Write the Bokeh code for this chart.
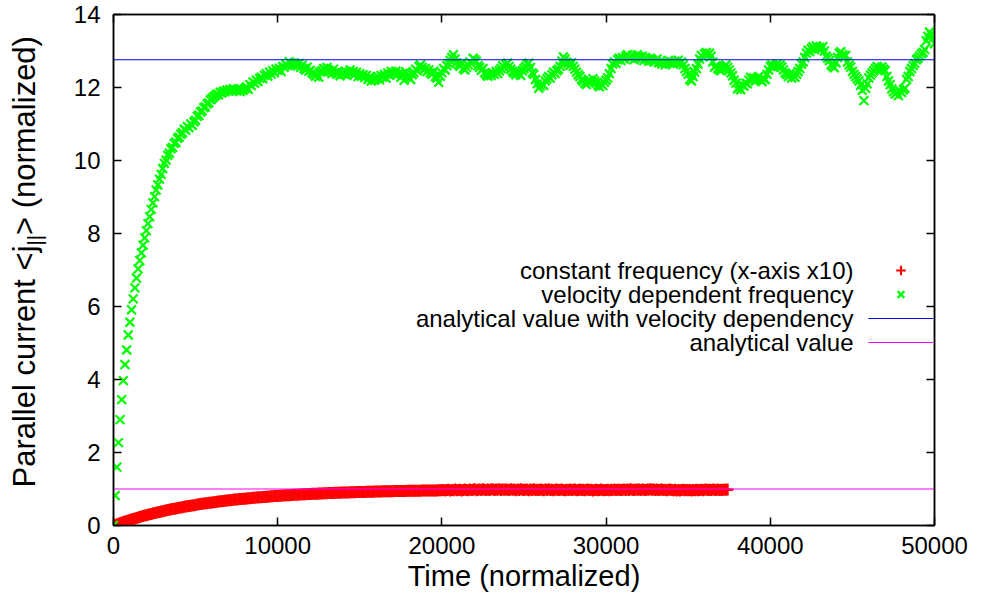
from bokeh.core.properties import value
from bokeh.embed import file_html
from bokeh.layouts import row
from bokeh.models import FixedTicker, Label, Legend, LegendItem, LinearAxis, Range1d
from bokeh.plotting import figure
from bokeh.resources import INLINE
import math

# ---------------------------------------------------------------------------
# Data
# ---------------------------------------------------------------------------
TIME_STEP = 100  # sampling interval of both simulations (normalized time)

# velocity dependent collision frequency, one sample every TIME_STEP
velocity_dependent = [
    0.00, 0.82, 1.60, 2.27, 2.90, 3.45, 3.97, 4.41, 4.81, 5.22,
    5.57, 5.91, 6.21, 6.51, 6.78, 7.03, 7.26, 7.47, 7.68, 7.88,
    8.08, 8.27, 8.46, 8.66, 8.84, 9.01, 9.19, 9.33, 9.49, 9.62,
    9.78, 9.92, 10.01, 10.14, 10.20, 10.32, 10.36, 10.47, 10.50, 10.61,
    10.64, 10.72, 10.76, 10.86, 10.83, 10.93, 10.90, 11.00, 10.96, 11.06,
    11.10, 11.21, 11.24, 11.33, 11.36, 11.45, 11.47, 11.55, 11.58, 11.66,
    11.70, 11.74, 11.78, 11.82, 11.80, 11.87, 11.85, 11.90, 11.88, 11.93,
    11.90, 11.95, 11.92, 11.97, 11.93, 11.91, 11.96, 11.89, 11.94, 11.92,
    11.97, 12.02, 11.95, 12.08, 12.05, 12.15, 12.12, 12.20, 12.16, 12.25,
    12.28, 12.24, 12.33, 12.38, 12.31, 12.42, 12.37, 12.46, 12.40, 12.50,
    12.47, 12.53, 12.44, 12.58, 12.55, 12.63, 12.60, 12.71, 12.66, 12.62,
    12.68, 12.64, 12.59, 12.66, 12.55, 12.61, 12.52, 12.48, 12.56, 12.45,
    12.47, 12.40, 12.36, 12.31, 12.35, 12.28, 12.42, 12.46, 12.52, 12.49,
    12.55, 12.48, 12.44, 12.38, 12.50, 12.41, 12.36, 12.43, 12.32, 12.39,
    12.37, 12.45, 12.33, 12.41, 12.48, 12.40, 12.44, 12.36, 12.42, 12.30,
    12.38, 12.31, 12.35, 12.27, 12.33, 12.22, 12.29, 12.18, 12.25, 12.20,
    12.24, 12.30, 12.21, 12.33, 12.28, 12.36, 12.26, 12.40, 12.34, 12.44,
    12.42, 12.37, 12.45, 12.35, 12.40, 12.28, 12.38, 12.20, 12.43, 12.33,
    12.26, 12.22, 12.35, 12.41, 12.50, 12.46, 12.58, 12.62, 12.55, 12.49,
    12.52, 12.44, 12.48, 12.40, 12.36, 12.45, 12.30, 12.26, 12.14, 12.31,
    12.40, 12.52, 12.48, 12.60, 12.66, 12.74, 12.82, 12.90, 12.78, 12.68,
    12.62, 12.58, 12.66, 12.52, 12.48, 12.55, 12.62, 12.70, 12.66, 12.80,
    12.76, 12.72, 12.60, 12.55, 12.47, 12.52, 12.40, 12.35, 12.31, 12.38,
    12.33, 12.40, 12.36, 12.44, 12.38, 12.46, 12.52, 12.60, 12.55, 12.63,
    12.67, 12.58, 12.50, 12.44, 12.40, 12.35, 12.42, 12.38, 12.33, 12.46,
    12.52, 12.58, 12.64, 12.67, 12.55, 12.40, 12.36, 12.22, 12.10, 11.98,
    12.04, 12.10, 12.06, 12.18, 12.24, 12.30, 12.26, 12.35, 12.42, 12.38,
    12.46, 12.50, 12.58, 12.72, 12.84, 12.78, 12.70, 12.66, 12.60, 12.68,
    12.58, 12.50, 12.42, 12.35, 12.30, 12.22, 12.18, 12.12, 12.08, 12.15,
    12.20, 12.16, 12.24, 12.18, 12.12, 12.06, 12.02, 12.10, 12.05, 12.14,
    12.20, 12.26, 12.38, 12.52, 12.64, 12.70, 12.66, 12.76, 12.80, 12.74,
    12.82, 12.78, 12.86, 12.90, 12.84, 12.80, 12.88, 12.76, 12.82, 12.90,
    12.85, 12.79, 12.86, 12.74, 12.82, 12.78, 12.72, 12.80, 12.76, 12.70,
    12.74, 12.78, 12.68, 12.72, 12.64, 12.70, 12.62, 12.67, 12.74, 12.66,
    12.70, 12.64, 12.72, 12.68, 12.75, 12.66, 12.70, 12.62, 12.52, 12.44,
    12.36, 12.22, 12.18, 12.30, 12.42, 12.52, 12.64, 12.78, 12.88, 12.84,
    12.92, 12.96, 12.90, 12.94, 12.86, 12.70, 12.56, 12.60, 12.52, 12.48,
    12.46, 12.52, 12.58, 12.62, 12.55, 12.48, 12.40, 12.32, 12.20, 12.12,
    11.96, 12.02, 11.94, 12.06, 12.04, 12.12, 12.10, 12.20, 12.28, 12.22,
    12.26, 12.18, 12.24, 12.30, 12.20, 12.16, 12.24, 12.22, 12.36, 12.48,
    12.58, 12.62, 12.55, 12.60, 12.64, 12.58, 12.62, 12.56, 12.48, 12.40,
    12.36, 12.30, 12.38, 12.26, 12.34, 12.28, 12.36, 12.44, 12.52, 12.64,
    12.70, 12.82, 12.94, 13.02, 12.98, 13.06, 13.12, 13.04, 13.14, 13.08,
    13.10, 13.06, 13.12, 13.00, 12.86, 12.80, 12.74, 12.62, 12.58, 12.54,
    12.68, 12.82, 12.94, 12.98, 12.90, 12.86, 12.88, 12.70, 12.62, 12.56,
    12.44, 12.36, 12.30, 12.24, 12.18, 12.06, 11.92, 11.64, 11.98, 12.10,
    12.26, 12.34, 12.40, 12.46, 12.52, 12.58, 12.54, 12.48, 12.56, 12.50,
    12.46, 12.30, 12.18, 12.08, 11.96, 11.88, 11.82, 11.86, 11.78, 11.90,
    11.86, 11.94, 11.98, 12.22, 12.30, 12.44, 12.52, 12.60, 12.66, 12.76,
    12.80, 12.86, 12.92, 12.96, 13.04, 13.28, 13.40, 13.52, 13.46, 13.34,
    13.20,
]

# constant collision frequency (time axis already multiplied by 10)
constant_frequency = [
    0.000, 0.017, 0.033, 0.049, 0.064, 0.080, 0.095, 0.110, 0.125, 0.139,
    0.154, 0.168, 0.181, 0.195, 0.208, 0.221, 0.234, 0.247, 0.259, 0.271,
    0.283, 0.295, 0.307, 0.318, 0.330, 0.341, 0.352, 0.362, 0.373, 0.383,
    0.393, 0.403, 0.413, 0.423, 0.433, 0.442, 0.451, 0.460, 0.469, 0.478,
    0.487, 0.495, 0.503, 0.512, 0.520, 0.528, 0.535, 0.543, 0.551, 0.558,
    0.565, 0.573, 0.580, 0.587, 0.593, 0.600, 0.607, 0.613, 0.620, 0.626,
    0.632, 0.638, 0.644, 0.650, 0.656, 0.662, 0.667, 0.673, 0.678, 0.683,
    0.689, 0.694, 0.699, 0.704, 0.709, 0.713, 0.718, 0.723, 0.727, 0.732,
    0.736, 0.741, 0.745, 0.749, 0.753, 0.758, 0.762, 0.765, 0.769, 0.773,
    0.777, 0.781, 0.784, 0.788, 0.791, 0.795, 0.798, 0.801, 0.805, 0.808,
    0.811, 0.814, 0.817, 0.820, 0.823, 0.826, 0.829, 0.832, 0.835, 0.837,
    0.840, 0.843, 0.845, 0.848, 0.850, 0.853, 0.855, 0.857, 0.860, 0.862,
    0.865, 0.867, 0.869, 0.871, 0.873, 0.875, 0.878, 0.880, 0.881, 0.883,
    0.885, 0.887, 0.889, 0.891, 0.893, 0.894, 0.896, 0.898, 0.900, 0.901,
    0.903, 0.904, 0.906, 0.907, 0.909, 0.910, 0.912, 0.913, 0.915, 0.916,
    0.918, 0.919, 0.920, 0.921, 0.923, 0.924, 0.926, 0.927, 0.928, 0.929,
    0.930, 0.932, 0.933, 0.934, 0.935, 0.936, 0.937, 0.938, 0.939, 0.940,
    0.941, 0.942, 0.943, 0.944, 0.945, 0.946, 0.947, 0.947, 0.948, 0.949,
    0.950, 0.951, 0.952, 0.952, 0.953, 0.954, 0.955, 0.955, 0.956, 0.957,
    0.958, 0.958, 0.959, 0.960, 0.960, 0.961, 0.962, 0.962, 0.963, 0.964,
    0.966, 0.972, 0.958, 0.970, 0.981, 0.962, 0.975, 0.968, 0.984, 0.965,
    0.972, 0.980, 0.961, 0.976, 0.988, 0.970, 0.966, 0.983, 0.974, 0.979,
    0.990, 0.968, 0.977, 0.985, 0.972, 0.994, 0.980, 0.971, 0.987, 0.976,
    0.983, 0.995, 0.974, 0.986, 0.979, 0.991, 0.970, 0.984, 0.977, 0.989,
    0.981, 0.973, 0.992, 0.978, 0.986, 0.969, 0.983, 0.975, 0.990, 0.980,
    0.972, 0.986, 0.979, 0.968, 0.984, 0.976, 0.991, 0.971, 0.982, 0.974,
    0.987, 0.977, 0.969, 0.983, 0.975, 0.990, 0.972, 0.981, 0.966, 0.978,
    0.984, 0.970, 0.979, 0.988, 0.973, 0.967, 0.982, 0.976, 0.985, 0.971,
    0.978, 0.986, 0.969, 0.975, 0.983, 0.972, 0.980, 0.965, 0.977, 0.984,
    0.970, 0.979, 0.962, 0.974, 0.981, 0.968, 0.976, 0.983, 0.971, 0.966,
    0.975, 0.982, 0.969, 0.978, 0.973, 0.985, 0.970, 0.977, 0.981, 0.972,
    0.979, 0.986, 0.974, 0.983, 0.976, 0.990, 0.980, 0.973, 0.987, 0.978,
    0.984, 0.975, 0.989, 0.981, 0.973, 0.986, 0.979, 0.991, 0.977, 0.983,
    0.976, 0.988, 0.972, 0.980, 0.985, 0.974, 0.982, 0.969, 0.978, 0.986,
    0.973, 0.966, 0.979, 0.962, 0.975, 0.958, 0.970, 0.981, 0.967, 0.976,
    0.964, 0.972, 0.960, 0.974, 0.968, 0.978, 0.965, 0.973, 0.980, 0.969,
    0.977, 0.984, 0.971, 0.982, 0.975, 0.987, 0.979, 0.973, 0.985, 0.976,
    0.982, 0.974, 0.987, 0.978, 0.983,
]

analytical_velocity = 12.76   # analytical value with velocity dependency
analytical_constant = 1.0     # analytical value

t_min, t_max = 0, 50000
y_min, y_max = 0, 14
x_ticks = [0, 10000, 20000, 30000, 40000, 50000]
y_ticks = [0, 2, 4, 6, 8, 10, 12, 14]

legend_labels = [
    "constant frequency (x-axis x10)",
    "velocity dependent frequency",
    "analytical value with velocity dependency",
    "analytical value",
]

t_velocity = [i * TIME_STEP for i in range(len(velocity_dependent))]
t_constant = [i * TIME_STEP for i in range(len(constant_frequency))]

# ---------------------------------------------------------------------------
# Layout constants (pixels)
# ---------------------------------------------------------------------------
FONT = "Liberation Sans"
PAGE_H = 604
TITLE_W = 60          # strip that carries the rotated y title
LEFT_PANEL = 53       # room for the y tick labels
FRAME_W, FRAME_H = 821, 511
BORDER_R, BORDER_T, BORDER_B = 47, 14, 79

# ---------------------------------------------------------------------------
# Main plot
# ---------------------------------------------------------------------------
p = figure(
    frame_width=FRAME_W, frame_height=FRAME_H,
    min_border_left=LEFT_PANEL, min_border_right=BORDER_R,
    min_border_top=BORDER_T, min_border_bottom=BORDER_B,
    x_range=Range1d(t_min, t_max), y_range=Range1d(y_min, y_max),
    output_backend="svg", toolbar_location=None,
    background_fill_color="white", border_fill_color="white",
)
p.grid.visible = False
p.outline_line_color = "black"
p.outline_line_width = 1.5

p.add_layout(LinearAxis(), "above")
p.add_layout(LinearAxis(), "right")


def style_axis(ax, ticks, show_labels):
    ax.ticker = FixedTicker(ticks=ticks)
    ax.major_tick_in = 8
    ax.major_tick_out = 0
    ax.minor_tick_line_color = None
    ax.axis_line_color = "black"
    ax.axis_line_width = 1.5
    ax.major_tick_line_color = "black"
    ax.major_tick_line_width = 1.5
    ax.major_label_text_font = FONT
    if show_labels:
        ax.major_label_text_font_size = "24px"
        ax.major_label_text_color = "black"
    else:
        # mirrored ticks only
        ax.major_label_text_font_size = "1px"
        ax.major_label_text_color = None
        ax.major_label_text_alpha = 0
        ax.major_label_standoff = 0


style_axis(p.below[0], x_ticks, True)
style_axis(p.left[0], y_ticks, True)
style_axis(p.above[0], x_ticks, False)
style_axis(p.right[0], y_ticks, False)

p.below[0].major_label_standoff = 11
p.left[0].major_label_standoff = 13

p.below[0].axis_label = "Time (normalized)"
p.below[0].axis_label_text_font = FONT
p.below[0].axis_label_text_font_size = "29px"
p.below[0].axis_label_text_font_style = "normal"
p.below[0].axis_label_text_color = "black"
p.below[0].axis_label_standoff = 3

# ---------------------------------------------------------------------------
# Data series
# ---------------------------------------------------------------------------
r_const = p.scatter(t_constant, constant_frequency, marker="cross", size=12,
                    line_color="#ff0000", line_width=2.2)
r_vel = p.scatter(t_velocity, velocity_dependent, marker="x", size=12.5,
                  line_color="#00ff00", line_width=2.2)
r_an_vel = p.line([t_min, t_max], [analytical_velocity, analytical_velocity],
                  line_color="#0000ff", line_width=1.2)
r_an = p.line([t_min, t_max], [analytical_constant, analytical_constant],
              line_color="#ff00ff", line_width=1.2)

# ---------------------------------------------------------------------------
# Key: right-aligned texts with the sample glyphs to their right
# ---------------------------------------------------------------------------
key_top = 255      # frame pixels above the bottom axis (first row centre)
row_h = 24
for i, txt in enumerate(legend_labels):
    p.add_layout(Label(x=740, y=key_top - i * row_h, x_units="screen", y_units="screen",
                       text=txt, text_align="right", text_baseline="middle",
                       text_font=FONT, text_font_size="24px", text_color="black"))

legend = Legend(
    items=[LegendItem(label=value(" "), renderers=[r]) for r in (r_const, r_vel, r_an_vel, r_an)],
    location=(755, key_top + row_h // 2 - 4 * row_h),
    glyph_width=65, glyph_height=row_h, label_width=0, label_height=row_h,
    label_standoff=0, padding=0, spacing=0, margin=0,
    border_line_color=None, background_fill_alpha=0,
    label_text_font_size="1px", label_text_color=None, label_text_alpha=0,
)
p.add_layout(legend)

# ---------------------------------------------------------------------------
# Y title strip: "Parallel current <j_||> (normalized)", read bottom to top.
# Its frame shares the main frame's rows; data y = page y measured upward.
# ---------------------------------------------------------------------------
tp = figure(
    width=TITLE_W, height=PAGE_H,
    x_range=Range1d(0, TITLE_W), y_range=Range1d(BORDER_B, PAGE_H - BORDER_T),
    min_border_left=0, min_border_right=0,
    min_border_top=BORDER_T, min_border_bottom=BORDER_B,
    output_backend="svg", toolbar_location=None,
    x_axis_location=None, y_axis_location=None,
    background_fill_color="white", border_fill_color="white",
)
tp.grid.visible = False
tp.outline_line_color = None

title_fs = 31
sub_fs = 20
part1 = "Parallel current <j"
part2 = "||"
part3 = "> (normalized)"
w1 = 7.808 * title_fs          # advance widths (Arial metrics)
w2 = 0.520 * sub_fs
w3 = 6.418 * title_fs
start = PAGE_H - 487           # bottom end of the title
baseline_x = 34.5
sub_shift = 7


def centre_from_baseline(bx, fs):
    # labels are anchored at the middle of their text box
    return bx - 0.3465 * fs


common = dict(angle=math.pi / 2, text_align="left", text_baseline="middle",
              text_font=FONT, text_color="black")
tp.add_layout(Label(x=centre_from_baseline(baseline_x, title_fs), y=start,
                    text=part1, text_font_size=f"{title_fs}px", **common))
tp.add_layout(Label(x=centre_from_baseline(baseline_x + sub_shift, sub_fs), y=start + w1,
                    text=part2, text_font_size=f"{sub_fs}px", **common))
tp.add_layout(Label(x=centre_from_baseline(baseline_x, title_fs), y=start + w1 + w2,
                    text=part3, text_font_size=f"{title_fs}px", **common))

layout = row(tp, p, spacing=0)
open("out.html", "w").write(file_html(layout, INLINE))
